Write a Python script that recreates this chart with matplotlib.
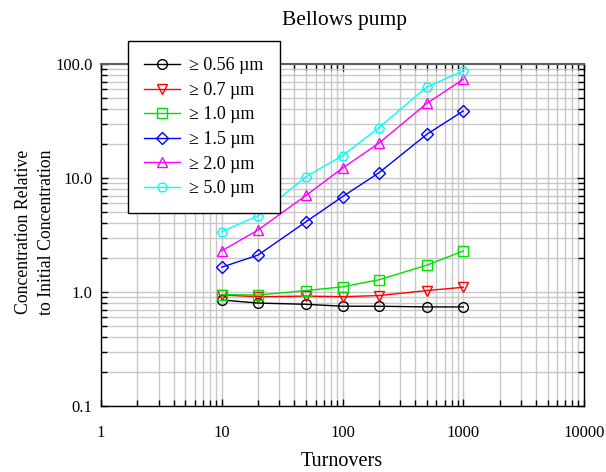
import matplotlib
matplotlib.use("Agg")
import matplotlib.pyplot as plt
from matplotlib.ticker import LogLocator, FixedLocator, FixedFormatter, NullFormatter

plt.rcParams["font.family"] = ["Liberation Serif", "DejaVu Serif"]
plt.rcParams["mathtext.fontset"] = "stix"

# data
turnovers = [10, 20, 50, 100, 200, 500, 1000]
conc_056 = [0.85, 0.80, 0.78, 0.75, 0.75, 0.74, 0.74]
conc_07 = [0.94, 0.91, 0.92, 0.91, 0.93, 1.03, 1.10]
conc_10 = [0.95, 0.94, 1.03, 1.11, 1.28, 1.72, 2.29]
conc_15 = [1.65, 2.11, 4.14, 6.86, 11.1, 24.2, 38.7]
conc_20 = [2.30, 3.50, 7.05, 12.2, 20.2, 45.2, 73.4]
conc_50 = [3.38, 4.67, 10.3, 15.7, 27.6, 63.0, 86.8]

series_labels = ["≥ 0.56 µm", "≥ 0.7 µm", "≥ 1.0 µm", "≥ 1.5 µm", "≥ 2.0 µm", "≥ 5.0 µm"]
series_values = [conc_056, conc_07, conc_10, conc_15, conc_20, conc_50]
series_colors = ["black", "red", "#00e000", "blue", "magenta", "cyan"]
series_markers = ["o", "v", "s", "D", "^", "H"]

x_ticks = [1, 10, 100, 1000, 10000]
x_tick_labels = ["1", "10", "100", "1000", "10000"]
y_ticks = [0.1, 1, 10, 100]
y_tick_labels = ["0.1", "1.0", "10.0", "100.0"]

W, H = 606, 472
fig = plt.figure(figsize=(W / 100, H / 100), dpi=100)
ax = fig.add_axes([101 / W, 1 - 406 / H, (584 - 101) / W, (406 - 64) / H])

handles = []
for vals, lab, col, mk in zip(series_values, series_labels, series_colors, series_markers):
    ms = 7 if mk != "D" else 6
    (h,) = ax.plot(turnovers, vals, color=col, marker=mk, markerfacecolor="none",
                   markeredgecolor=col, markersize=ms, linewidth=1, label=lab)
    handles.append(h)

ax.set_xscale("log")
ax.set_yscale("log")
ax.set_xlim(1, 10000)
ax.set_ylim(0.1, 100)

ax.xaxis.set_major_locator(FixedLocator(x_ticks))
ax.xaxis.set_major_formatter(FixedFormatter(x_tick_labels))
ax.yaxis.set_major_locator(FixedLocator(y_ticks))
ax.yaxis.set_major_formatter(FixedFormatter(y_tick_labels))
ax.xaxis.set_minor_locator(LogLocator(base=10, subs=range(2, 10)))
ax.yaxis.set_minor_locator(LogLocator(base=10, subs=range(2, 10)))
ax.xaxis.set_minor_formatter(NullFormatter())
ax.yaxis.set_minor_formatter(NullFormatter())

ax.grid(True, which="both", color="#c8c8c8", linewidth=1)
ax.set_axisbelow(True)
ax.tick_params(which="both", direction="in", top=True, right=True, labelsize=12)
ax.tick_params(which="major", length=5, width=1)
ax.tick_params(which="minor", length=4, width=1)
ax.tick_params(axis="x", pad=14)
ax.tick_params(axis="y", pad=6)
for sp in ax.spines.values():
    sp.set_linewidth(1)
ax.spines["top"].set_color("#606060")
ax.spines["top"].set_linewidth(1.5)

# titles placed in figure pixels
fig.text(344 / W, 1 - 20 / H, "Bellows pump", fontsize=15.5, ha="center", va="center")
fig.text(342 / W, 1 - 462 / H, "Turnovers", fontsize=14.5, ha="center", va="center")
fig.text(35 / W, 1 - 232 / H, "Concentration Relative\nto Initial Concentration",
         fontsize=12.8, ha="center", va="center", rotation=90, multialignment="center",
         linespacing=1.45)

leg = fig.legend(handles=handles, loc="upper left",
                 bbox_to_anchor=(128 / W, 1 - 41 / H), borderaxespad=0, fontsize=13,
                 frameon=True, fancybox=False, edgecolor="black", framealpha=1,
                 handlelength=2.0, borderpad=0.9, labelspacing=0.42, handletextpad=0.5)
leg.get_frame().set_linewidth(1)

fig.savefig("out.png", dpi=100)
